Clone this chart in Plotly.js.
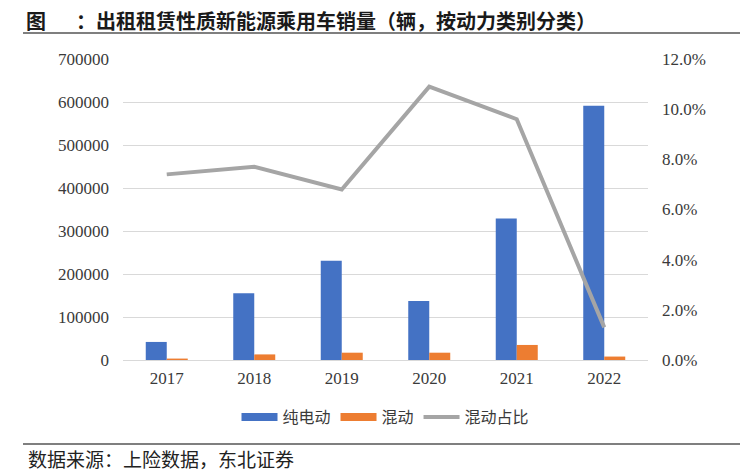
<!DOCTYPE html>
<html>
<head>
<meta charset="utf-8">
<script src="https://cdn.plot.ly/plotly-3.0.1.min.js"></script>
<style>html,body{margin:0;padding:0;background:#fff;}</style>
</head>
<body>
<div id="chart" style="width:748px;height:472px;"></div>
<script>
const years = ['2017', '2018', '2019', '2020', '2021', '2022'];
const pureElectric = [42000, 155000, 231000, 137000, 329000, 591000];
const hybrid = [3300, 13000, 17000, 17000, 35000, 8000];
const hybridShare = [0.074, 0.077, 0.068, 0.109, 0.096, 0.013];
const leftTicks = [0, 100000, 200000, 300000, 400000, 500000, 600000, 700000];
const rightTicks = [0, 0.02, 0.04, 0.06, 0.08, 0.10, 0.12];
const seriesNames = ['纯电动', '混动', '混动占比'];

const blue = '#4472c4', orange = '#ed7d31', gray = '#a5a5a5';
const tickFont = {family: '"Liberation Serif", "Times New Roman", serif', size: 17, color: '#3a3a3a'};
const cjk = '"Noto Sans CJK SC", "Noto Sans", sans-serif';

const traces = [
  {type: 'bar', x: years, y: pureElectric, name: seriesNames[0], marker: {color: blue}, showlegend: false},
  {type: 'bar', x: years, y: hybrid, name: seriesNames[1], marker: {color: orange}, showlegend: false},
  {type: 'scatter', mode: 'lines', x: years, y: hybridShare, name: seriesNames[2], yaxis: 'y2',
   line: {color: gray, width: 4}, showlegend: false},
  // legend swatches
  {type: 'scatter', mode: 'lines', x: [null], y: [null], name: seriesNames[0], line: {color: blue, width: 8}},
  {type: 'scatter', mode: 'lines', x: [null], y: [null], name: seriesNames[1], line: {color: orange, width: 8}},
  {type: 'scatter', mode: 'lines', x: [null], y: [null], name: seriesNames[2], line: {color: gray, width: 4}}
];

const pl = 123, pr = 648, pt = 59, pb = 360;
const px = v => (v - pl) / (pr - pl);
const py = v => (pb - v) / (pb - pt);

const layout = {
  width: 748, height: 472,
  margin: {l: pl, r: 748 - pr, t: pt, b: 472 - pb},
  paper_bgcolor: '#ffffff', plot_bgcolor: '#ffffff',
  barmode: 'group', bargap: 0.52, bargroupgap: 0,
  title: {
    text: '<b>图\u3000\u2002：出租租赁性质新能源乘用车销量（辆，按动力类别分类）</b>',
    font: {family: cjk, size: 20, color: '#1a1a1a'},
    xref: 'container', yref: 'container', x: 26 / 748, xanchor: 'left', y: 1 - 22 / 472, yanchor: 'middle'
  },
  xaxis: {
    type: 'category', tickfont: tickFont, showgrid: false, zeroline: false,
    showline: false, ticks: '', ticklabelstandoff: 6, fixedrange: true
  },
  yaxis: {
    range: [0, 700000], tickvals: leftTicks, ticktext: leftTicks.map(String),
    tickfont: tickFont, showgrid: true, gridcolor: '#d9d9d9', gridwidth: 1,
    zeroline: true, zerolinecolor: '#d9d9d9', zerolinewidth: 1,
    showline: false, ticks: '', ticklabelstandoff: 13
  },
  yaxis2: {
    overlaying: 'y', side: 'right', range: [0, 0.12], tickvals: rightTicks, tickformat: '.1%',
    tickfont: tickFont, showgrid: false, zeroline: false, showline: false, ticks: '', ticklabelstandoff: 13
  },
  legend: {
    orientation: 'h', x: 0.5, xanchor: 'center', y: py(417), yanchor: 'middle',
    font: {family: cjk, size: 16, color: '#3a3a3a'}, itemwidth: 36, bgcolor: 'rgba(0,0,0,0)'
  },
  shapes: [
    {type: 'line', xref: 'paper', yref: 'paper', x0: px(23), x1: px(740), y0: py(33), y1: py(33),
     line: {color: '#555555', width: 1.5}},
    {type: 'line', xref: 'paper', yref: 'paper', x0: px(23), x1: px(740), y0: py(444), y1: py(444),
     line: {color: '#555555', width: 1.5}}
  ],
  annotations: [
    {text: '数据来源：上险数据，东北证券', xref: 'paper', yref: 'paper', x: px(26), y: py(458),
     xanchor: 'left', yanchor: 'middle', showarrow: false, font: {family: cjk, size: 19, color: '#222222'}}
  ]
};

Plotly.newPlot('chart', traces, layout, {displayModeBar: false, staticPlot: true});
</script>
</body>
</html>
